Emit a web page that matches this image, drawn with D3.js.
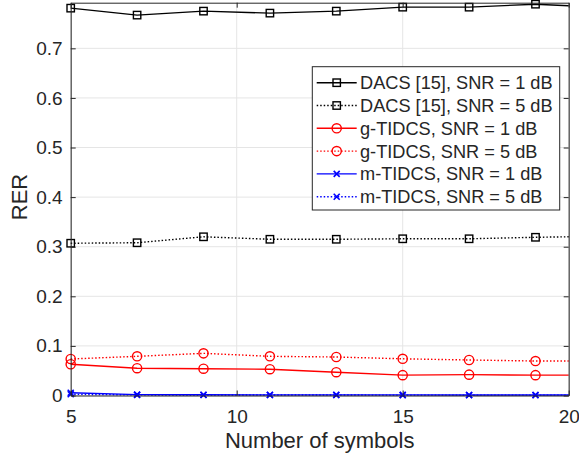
<!DOCTYPE html>
<html><head><meta charset="utf-8">
<script src="https://cdn.jsdelivr.net/npm/d3@7"></script>
<style>body{margin:0;background:#fff}svg{display:block}text{font-family:"Liberation Sans",Arial,sans-serif;fill:#262626}</style>
</head><body><svg id="c" width="579" height="461"></svg>
<script>
const xVals = [5, 7, 9, 11, 13, 15, 17, 19, 20];
const dacs1 = [0.781, 0.767, 0.775, 0.771, 0.775, 0.783, 0.783, 0.789, 0.786];
const dacs5 = [0.307, 0.308, 0.320, 0.315, 0.315, 0.316, 0.316, 0.319, 0.320];
const gt1 = [0.063, 0.055, 0.054, 0.053, 0.047, 0.041, 0.042, 0.041, 0.041];
const gt5 = [0.0736, 0.079, 0.085, 0.079, 0.0776, 0.074, 0.0716, 0.0695, 0.0695];
const mt1 = [0.0055, 0.0018, 0.0015, 0.0013, 0.0012, 0.0012, 0.0011, 0.0011, 0.0011];
const mt5 = [0.0025, 0.0012, 0.0010, 0.0009, 0.0009, 0.0008, 0.0008, 0.0008, 0.0008];
const xTicks = [5, 10, 15, 20];
const yTicks = [0, 0.1, 0.2, 0.3, 0.4, 0.5, 0.6, 0.7];
const seriesNames = ["DACS [15], SNR = 1 dB","DACS [15], SNR = 5 dB","g-TIDCS, SNR = 1 dB","g-TIDCS, SNR = 5 dB","m-TIDCS, SNR = 1 dB","m-TIDCS, SNR = 5 dB"];

const series = [
  {name:seriesNames[0], v:dacs1, color:"#000", dash:null, m:"square"},
  {name:seriesNames[1], v:dacs5, color:"#000", dash:"1.5,2", m:"square"},
  {name:seriesNames[2], v:gt1, color:"#ff0000", dash:null, m:"circle"},
  {name:seriesNames[3], v:gt5, color:"#ff0000", dash:"1.5,2", m:"circle"},
  {name:seriesNames[4], v:mt1, color:"#0000ff", dash:null, m:"cross"},
  {name:seriesNames[5], v:mt5, color:"#0000ff", dash:"1.5,2", m:"cross"}
];

const L=70.7, R=568.7, T=2.7, B=395.5;
const svg=d3.select("#c");
const x=d3.scaleLinear().domain([5,20]).range([L,R]);
const y=d3.scaleLinear().domain([0,0.792]).range([B,T]);

// grid
const g=svg.append("g");
g.selectAll(".gx").data(xTicks).enter().append("line")
 .attr("x1",d=>x(d)).attr("x2",d=>x(d)).attr("y1",T).attr("y2",B)
 .attr("stroke","#e5e5e5").attr("stroke-width",1);
g.selectAll(".gy").data(yTicks).enter().append("line")
 .attr("x1",L).attr("x2",R).attr("y1",d=>y(d)).attr("y2",d=>y(d))
 .attr("stroke","#e5e5e5").attr("stroke-width",1);

// axes
const axL=d3.axisLeft(y).tickValues(yTicks).tickSizeInner(-5).tickSizeOuter(0).tickPadding(8).tickFormat(d=>d===0?"0":d3.format(".1f")(d));
const axB=d3.axisBottom(x).tickValues(xTicks).tickSizeInner(-5).tickSizeOuter(0).tickPadding(14).tickFormat(d3.format("d"));
const axR=d3.axisRight(y).tickValues(yTicks).tickSizeInner(-5).tickSizeOuter(0).tickFormat("");
const axT=d3.axisTop(x).tickValues(xTicks).tickSizeInner(-5).tickSizeOuter(0).tickFormat("");
function style(sel){sel.selectAll("path").attr("stroke","#262626").attr("stroke-width",1);
 sel.selectAll("line").attr("stroke","#262626").attr("stroke-width",1);
 sel.selectAll("text").style("font-size","19px").attr("fill","#262626");}

// lines
const line=d3.line().x((d,i)=>x(xVals[i])).y(d=>y(d));
const pl=svg.append("g");
series.forEach(s=>{
  pl.append("path").datum(s.v).attr("d",line).attr("fill","none").attr("stroke",s.color)
    .attr("stroke-width",1.4).attr("stroke-dasharray",s.dash);
});
function marker(sel,type,color,cx,cy){
  if(type==="square") sel.append("rect").attr("x",cx-3.7).attr("y",cy-3.7).attr("width",7.4).attr("height",7.4).attr("fill","none").attr("stroke",color).attr("stroke-width",1.4);
  else if(type==="circle") sel.append("circle").attr("cx",cx).attr("cy",cy).attr("r",4.6).attr("fill","none").attr("stroke",color).attr("stroke-width",1.4);
  else { sel.append("path").attr("d",`M${cx-3},${cy-3}L${cx+3},${cy+3}M${cx-3},${cy+3}L${cx+3},${cy-3}`).attr("stroke",color).attr("stroke-width",1.6); }
}
series.forEach(s=>{
  s.v.forEach((v,i)=>{ if(i<8) marker(pl,s.m,s.color,x(xVals[i]),y(v)); });
});

svg.append("g").attr("transform",`translate(${L},0)`).call(axL).call(style);
svg.append("g").attr("transform",`translate(0,${B})`).call(axB).call(style);
svg.append("g").attr("transform",`translate(${R},0)`).call(axR).call(style);
svg.append("g").attr("transform",`translate(0,${T})`).call(axT).call(style);

// axis labels
svg.append("text").attr("x",(L+R)/2).attr("y",447.5).attr("text-anchor","middle").style("font-size","22px").text("Number of symbols");
svg.append("text").attr("transform",`translate(26.5,197) rotate(-90)`).attr("text-anchor","middle").style("font-size","22px").text("RER");

// legend
const lg=svg.append("g");
const lx=312.3, ly=66.7, lw=247.4, lh=143.3, rowH=22.8;
lg.append("rect").attr("x",lx).attr("y",ly).attr("width",lw).attr("height",lh).attr("fill","#fff").attr("stroke","#262626").attr("stroke-width",1);
series.forEach((s,i)=>{
  const cy=82.7+i*rowH;
  lg.append("line").attr("x1",316.7).attr("x2",356.7).attr("y1",cy).attr("y2",cy).attr("stroke",s.color).attr("stroke-width",1.4).attr("stroke-dasharray",s.dash);
  marker(lg,s.m,s.color,336.7,cy);
  lg.append("text").attr("x",360).attr("y",cy).attr("dy","0.36em").style("font-size","18.2px").text(s.name);
});
</script></body></html>
